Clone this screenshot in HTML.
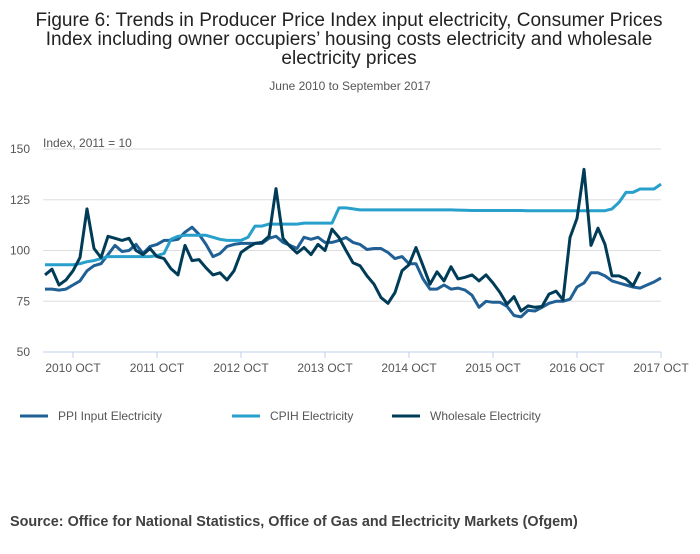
<!DOCTYPE html>
<html><head><meta charset="utf-8"><style>
body{margin:0;width:700px;height:549px;background:#fff;font-family:"Liberation Sans",sans-serif;overflow:hidden}
svg text{font-family:"Liberation Sans",sans-serif}
</style></head><body>
<svg width="700" height="549">
<g font-size="19" fill="#222" text-anchor="middle">
<text x="349" y="26">Figure 6: Trends in Producer Price Index input electricity, Consumer Prices</text>
<text x="349" y="45">Index including owner occupiers’ housing costs electricity and wholesale</text>
<text x="349" y="64">electricity prices</text>
</g>
<text x="350" y="90" font-size="12" fill="#555" text-anchor="middle">June 2010 to September 2017</text>
<text x="43" y="147" font-size="12" fill="#555">Index, 2011 = 10</text>
<g id="grid"></g><g id="xaxis"></g><g id="series"></g>
<g font-size="12" fill="#555">
<line x1="20" y1="416" x2="48" y2="416" stroke="#206095" stroke-width="3"/><text x="58" y="420">PPI Input Electricity</text>
<line x1="232" y1="416" x2="260" y2="416" stroke="#27a0cc" stroke-width="3"/><text x="270" y="420">CPIH Electricity</text>
<line x1="392" y1="416" x2="420" y2="416" stroke="#003c57" stroke-width="3"/><text x="430" y="420">Wholesale Electricity</text>
</g>
<text x="10" y="526" font-size="14.4" font-weight="bold" fill="#414042">Source: Office for National Statistics, Office of Gas and Electricity Markets (Ofgem)</text>
</svg>
<script>
const yTicks=[50,75,100,125,150];
const xTickLabels=["2010 OCT","2011 OCT","2012 OCT","2013 OCT","2014 OCT","2015 OCT","2016 OCT","2017 OCT"];
const ppi=[81,81,80.5,81,83,85,90,92.5,93.5,98,102.5,99.5,100,103,98.5,102,103,105,105,105.5,109,111.5,108,103,97,98.5,102,103,103.5,103.5,103.5,103.5,106,107,104,102.5,101,106.5,105.5,106.5,104,104,105,106.4,104,103,100.5,101,101,99,96,97,93.5,93.5,86,81,81,83,81,81.5,80.5,78,72,75,74.5,74.5,72.5,68,67.3,70.5,70.2,72,74,75,75,76,82,84,89,89,87.5,85,84,83,82,81.5,83,84.5,86.5];
const cpih=[93,93,93,93,93,93.5,94.5,95,96,97,97,97,97,97,97,97,97.5,98.5,105.5,107,107.5,107.5,107.5,107.5,106.5,105.5,105,105,105,106.5,112,112,113,113,113,113,113,113.5,113.5,113.5,113.5,113.5,121,121,120.5,120,120,120,120,120,120,120,120,120,120,120,120,120,120,119.9,119.8,119.7,119.7,119.7,119.7,119.7,119.7,119.7,119.7,119.6,119.6,119.6,119.6,119.6,119.6,119.6,119.6,119.6,119.6,119.6,119.6,120.5,123.7,128.6,128.6,130.3,130.3,130.3,132.7];
const wholesale=[88,90.8,83,85.5,90,96.5,120.5,101,96.5,107,106,105,106,100,98,101,97,96,91,88,102.5,95,95.5,91.5,88,89,85.5,90,99,101.5,103.5,104,107,130.5,106,102,98.7,101.5,98,103,100,110.5,106.4,100,94,92.5,87.5,83.4,76.8,74,79.3,90,93,101.5,92.5,83.4,89.5,85,92,86,86.8,88,85,88,84,79.3,73.5,77.3,70.2,72.7,72,72.4,78.5,80,75.7,106.4,115.8,140,102.5,111,103,87.5,87.5,86,82.6,89.5];
const NS="http://www.w3.org/2000/svg";
const X=i=>45+i*7;
const XT=k=>X(4+12*k);
const Y=v=>352-(v-50)*2.03;
const grid=document.getElementById('grid');
yTicks.forEach(t=>{
 const l=document.createElementNS(NS,'line');
 
 
 l.setAttribute('x1',43);l.setAttribute('x2',661);l.setAttribute('y1',Y(t));l.setAttribute('y2',Y(t));
 l.setAttribute('stroke',t===50?'#bfcfe8':'#ddd');l.setAttribute('stroke-width',1);
 grid.appendChild(l);
 const tx=document.createElementNS(NS,'text');
 
 
 tx.setAttribute('x',30);tx.setAttribute('y',Y(t)+4);tx.setAttribute('text-anchor','end');
 tx.setAttribute('font-size',12);tx.setAttribute('fill','#555');tx.textContent=t;
 grid.appendChild(tx);
});
const xa=document.getElementById('xaxis');
xTickLabels.forEach((s,k)=>{
 const x=XT(k);
 const l=document.createElementNS(NS,'line');
 
 
 l.setAttribute('x1',x);l.setAttribute('x2',x);l.setAttribute('y1',352);l.setAttribute('y2',358);
 l.setAttribute('stroke','#bfcfe8');xa.appendChild(l);
 const tx=document.createElementNS(NS,'text');
 
 
 tx.setAttribute('x',x);tx.setAttribute('y',372);tx.setAttribute('text-anchor','middle');
 tx.setAttribute('font-size',12);tx.setAttribute('fill','#555');tx.textContent=s;
 xa.appendChild(tx);
});
const sg=document.getElementById('series');
function draw(arr,color,name){
 const p=document.createElementNS(NS,'polyline');
 
 
 p.setAttribute('points',arr.map((v,i)=>X(i).toFixed(1)+','+Y(v).toFixed(1)).join(' '));
 p.setAttribute('fill','none');p.setAttribute('stroke',color);p.setAttribute('stroke-width',3);
 p.setAttribute('stroke-linejoin','round');
 sg.appendChild(p);
}
draw(ppi,'#206095','ppi-line');
draw(cpih,'#27a0cc','cpih-line');
draw(wholesale,'#003c57','wholesale-line');
</script>
</body></html>
